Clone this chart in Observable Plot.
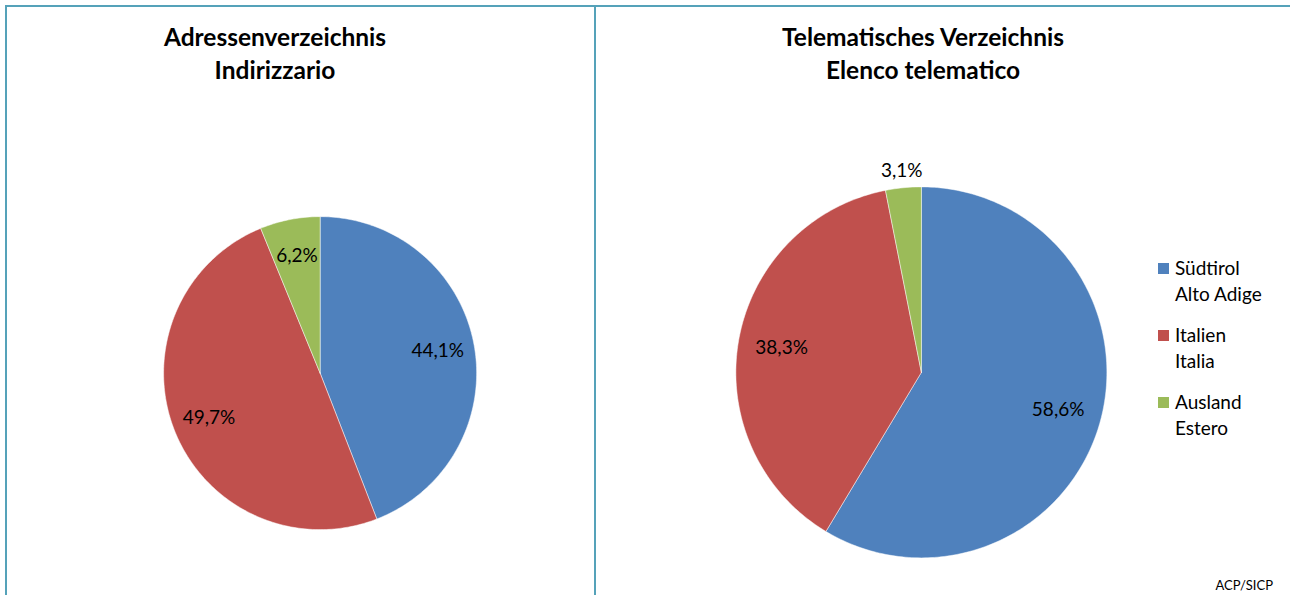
<!DOCTYPE html>
<html>
<head>
<meta charset="utf-8">
<script src="https://cdn.jsdelivr.net/npm/d3@7"></script>
<script src="https://cdn.jsdelivr.net/npm/@observablehq/plot@0.6"></script>
<style>
  html, body { margin: 0; padding: 0; background: #fff; }
  #page { position: relative; width: 1290px; height: 595px; overflow: hidden; background: #fff; font-family: Lato, "Open Sans", sans-serif; }
  .panel { position: absolute; box-sizing: border-box; border: 2px solid #55a2b9; }
  .pie { position: absolute; }
  #overlay { position: absolute; left: 0; top: 0; }
</style>
</head>
<body>
<div id="page"></div>
<script>
// ---- data ----
const categories = ["Südtirol", "Italien", "Ausland"];
const legendLine2 = ["Alto Adige", "Italia", "Estero"];
const colors = ["#4f81bd", "#c0504d", "#9bbb59"];
const titlesLeft = ["Adressenverzeichnis", "Indirizzario"];
const titlesRight = ["Telematisches Verzeichnis", "Elenco telematico"];
const valuesLeft = [44.1, 49.7, 6.2];
const valuesRight = [58.6, 38.3, 3.1];
const caption = "ACP/SICP";

const page = document.getElementById("page");

// panel frames
function panel(l, t, w, h) {
  const d = document.createElement("div");
  d.className = "panel";
  Object.assign(d.style, {left: l + "px", top: t + "px", width: w + "px", height: h + "px"});
  page.appendChild(d);
}
panel(5, 5, 591, 600);
panel(594, 5, 710, 600);

function fmt(v) { return v.toFixed(1).replace(".", ",") + "%"; }

function pie(values, cx, cy, R) {
  const ext = 1.25;
  const size = 2 * ext * R;
  const total = d3.sum(values);
  const polys = [];
  const labels = [];
  let acc = 0;
  values.forEach((v, i) => {
    const a0 = acc / total * 2 * Math.PI;
    acc += v;
    const a1 = acc / total * 2 * Math.PI;
    const n = Math.max(4, Math.ceil((a1 - a0) / (Math.PI / 180)));
    polys.push({cat: categories[i], x: 0, y: 0});
    for (let k = 0; k <= n; k++) {
      const a = a0 + (a1 - a0) * k / n;
      polys.push({cat: categories[i], x: Math.sin(a), y: Math.cos(a)});
    }
    polys.push({cat: categories[i], x: 0, y: 0});
    const m = (a0 + a1) / 2;
    const frac = v / total;
    const rr = frac < 0.05 ? 1.09 : 0.765;
    labels.push({x: rr * Math.sin(m), y: rr * Math.cos(m), text: fmt(v)});
  });
  const chart = Plot.plot({
    width: size, height: size,
    margin: 0,
    x: {domain: [-ext, ext], axis: null},
    y: {domain: [-ext, ext], axis: null},
    color: {domain: categories, range: colors},
    style: {fontFamily: "Lato, 'Open Sans', sans-serif", background: "transparent", overflow: "visible"},
    marks: [
      Plot.line(polys, {x: "x", y: "y", z: "cat", fill: "cat", stroke: "#ffffff", strokeOpacity: 0.6, strokeWidth: 0.8, curve: "linear"}),
      Plot.text(labels, {x: "x", y: "y", text: "text", fontSize: 19, fill: "#000", textAnchor: "middle", lineAnchor: "middle"})
    ]
  });
  chart.classList.add("pie");
  chart.style.left = (cx - size / 2) + "px";
  chart.style.top = (cy - size / 2) + "px";
  page.appendChild(chart);
}

pie(valuesLeft, 319.5, 373, 156.5);
pie(valuesRight, 920.5, 371.5, 185.5);

// titles, legend, caption
const svg = d3.select(page).append("svg")
  .attr("id", "overlay").attr("width", 1290).attr("height", 595)
  .style("font-family", "Lato, 'Open Sans', sans-serif");

function title(lines, cx) {
  lines.forEach((t, i) => {
    svg.append("text").attr("x", cx).attr("y", 46 + i * 33)
      .attr("text-anchor", "middle").attr("font-size", 24.5).attr("font-weight", "bold")
      .attr("fill", "#000").text(t);
  });
}
title(titlesLeft, 275);
title(titlesRight, 923);

categories.forEach((c, i) => {
  const base = 275 + i * 67;
  svg.append("rect").attr("x", 1158).attr("y", base - 12).attr("width", 11).attr("height", 11).attr("fill", colors[i]);
  svg.append("text").attr("x", 1175).attr("y", base).attr("font-size", 19).attr("fill", "#000").text(c);
  svg.append("text").attr("x", 1175).attr("y", base + 26).attr("font-size", 19).attr("fill", "#000").text(legendLine2[i]);
});

svg.append("text").attr("x", 1273).attr("y", 590).attr("text-anchor", "end")
  .attr("font-size", 13).attr("fill", "#000").text(caption);
</script>
</body>
</html>
